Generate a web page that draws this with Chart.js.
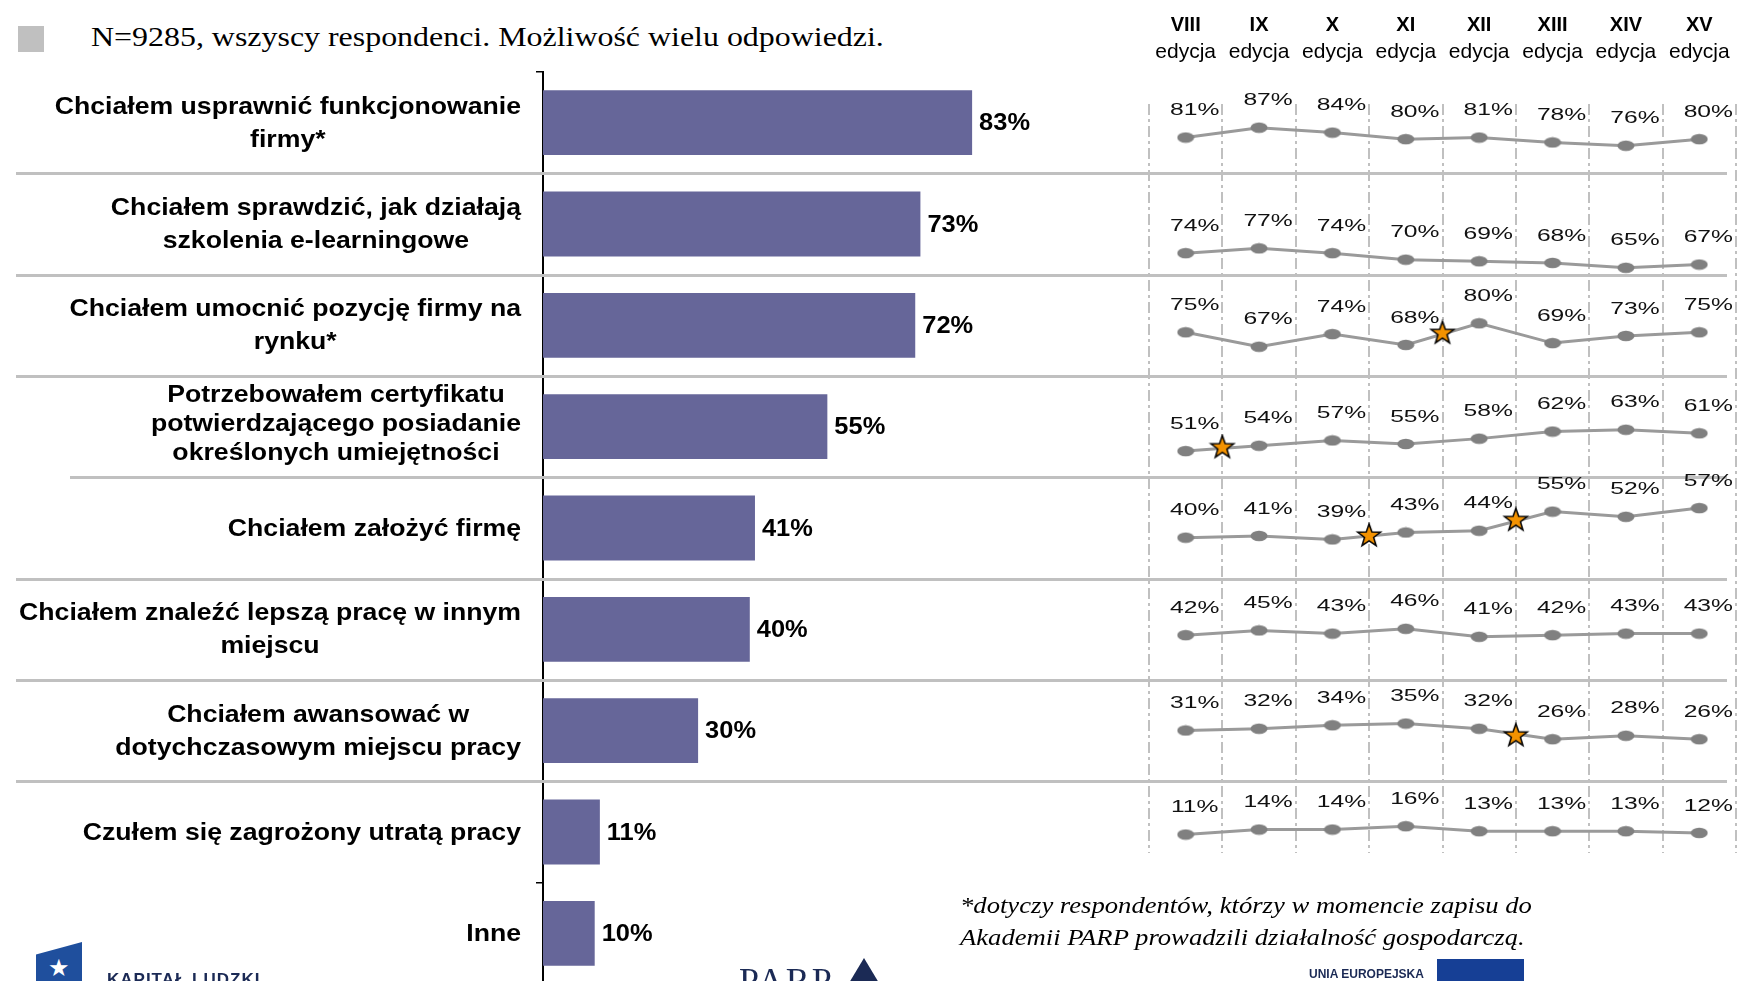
<!DOCTYPE html>
<html lang="pl">
<head>
<meta charset="utf-8">
<title>Powody udziału w szkoleniach Akademii PARP</title>
<script src="https://cdn.jsdelivr.net/npm/chart.js@4.4.1/dist/chart.umd.min.js"></script>
<style>
	html, body { margin: 0; padding: 0; background: #fff; overflow: hidden; }
	body { width: 1760px; height: 981px; position: relative; font-family: "Liberation Sans", Arial, sans-serif; }
	#barChart { position: absolute; left: 0; top: 0; }
	#trendChart { position: absolute; left: 1100px; top: 0; }
	.marker { position: absolute; left: 18px; top: 26px; width: 26px; height: 26px; background: #c0c0c0; }
	.title { position: absolute; left: 91px; top: 23px; font: 28px/28px "Liberation Serif", "Times New Roman", serif; white-space: nowrap; transform: scaleX(1.14); transform-origin: left top; }
	.footnote { position: absolute; left: 960px; top: 889px; font: italic 24px/32px "Liberation Serif", "Times New Roman", serif; white-space: nowrap; transform: scaleX(1.11); transform-origin: left top; }
	.kl-mark { position: absolute; left: 36px; top: 942px; width: 46px; height: 45px; background: #1f4f9d; clip-path: polygon(0 28%, 100% 0, 100% 100%, 0 100%); color: #fff; font-size: 24px; line-height: 52px; text-align: center; }
	.kl-text { position: absolute; left: 107px; top: 970px; font: bold 17px "Liberation Sans", Arial, sans-serif; color: #1b2a55; letter-spacing: 1px; }
	.parp { position: absolute; left: 739px; top: 960px; font: 36px "Liberation Serif", serif; color: #1b2a55; letter-spacing: 2px; }
	.parp-mark { position: absolute; left: 846px; top: 958px; width: 0; height: 0; border-left: 18px solid transparent; border-right: 18px solid transparent; border-bottom: 30px solid #1b2a55; }
	.ue { position: absolute; left: 1309px; top: 967px; font: bold 12px "Liberation Sans", Arial, sans-serif; color: #1b2a55; }
	.ue-flag { position: absolute; left: 1437px; top: 959px; width: 87px; height: 30px; background: #163f95; }
</style>
</head>
<body>
<div class="marker"></div>
<div class="title">N=9285, wszyscy respondenci. Możliwość wielu odpowiedzi.</div>
<canvas id="barChart" width="1760" height="990"></canvas>
<canvas id="trendChart" width="660" height="900"></canvas>
<div class="footnote">*dotyczy respondentów, którzy w momencie zapisu do<br>Akademii PARP prowadzili działalność gospodarczą.</div>
<div class="kl-mark">★</div>
<div class="kl-text">KAPITAŁ LUDZKI</div>
<div class="parp">PARP</div>
<div class="parp-mark"></div>
<div class="ue">UNIA EUROPEJSKA</div>
<div class="ue-flag"></div>
<script>
const categories = [
	["Chciałem usprawnić funkcjonowanie", "firmy*"],
	["Chciałem sprawdzić, jak działają", "szkolenia e-learningowe"],
	["Chciałem umocnić pozycję firmy na", "rynku*"],
	["Potrzebowałem certyfikatu", "potwierdzającego posiadanie", "określonych umiejętności"],
	["Chciałem założyć firmę"],
	["Chciałem znaleźć lepszą pracę w innym", "miejscu"],
	["Chciałem awansować w", "dotychczasowym miejscu pracy"],
	["Czułem się zagrożony utratą pracy"],
	["Inne"],
];
const shares = [83, 73, 72, 55, 41, 40, 30, 11, 10];

const editions = ["VIII", "IX", "X", "XI", "XII", "XIII", "XIV", "XV"];
const editionWord = "edycja";

// one trend row per answer, editions VIII..XV
const trendUsprawnic = [81, 87, 84, 80, 81, 78, 76, 80];
const trendSprawdzic = [74, 77, 74, 70, 69, 68, 65, 67];
const trendUmocnic = [75, 67, 74, 68, 80, 69, 73, 75];
const trendCertyfikat = [51, 54, 57, 55, 58, 62, 63, 61];
const trendZalozyc = [40, 41, 39, 43, 44, 55, 52, 57];
const trendZnalezc = [42, 45, 43, 46, 41, 42, 43, 43];
const trendAwansowac = [31, 32, 34, 35, 32, 26, 28, 26];
const trendZagrozony = [11, 14, 14, 16, 13, 13, 13, 12];
const trendRows = [trendUsprawnic, trendSprawdzic, trendUmocnic, trendCertyfikat, trendZalozyc, trendZnalezc, trendAwansowac, trendZagrozony];

// value range of each row's own axis
const rowAxisMin = [44.4, 50.5, 45.8, 35.6, 20.2, 22.9, 14.4, -0.1];
const rowAxisMax = [101.4, 108.3, 97.8, 88.2, 74.0, 81.4, 68.2, 56.2];

// orange stars between editions
const starRow = [2, 3, 4, 4, 6];
const starPos = [3.5, 0.5, 2.5, 4.5, 4.5];
const starValue = [74.5, 53, 41, 50, 28];

const SANS = '"Liberation Sans", Arial, sans-serif';
const separatorStart = [16, 16, 16, 70, 16, 16, 16];

function drawStretched(ctx, text, x, y, sx) {
	ctx.save();
	ctx.translate(x, y);
	ctx.scale(sx, 1);
	ctx.fillText(text, 0, 0);
	ctx.restore();
}

const barLabelsPlugin = {
	id: "barLabels",
	beforeDatasetsDraw(chart) {
		const { ctx } = chart;
		const yScale = chart.scales.y;
		ctx.save();
		ctx.strokeStyle = "#c0c0c0";
		ctx.lineWidth = 3;
		separatorStart.forEach((x0, i) => {
			const y = Math.round(yScale.getPixelForValue(i + 0.5)) + 0.5;
			ctx.beginPath();
			ctx.moveTo(x0, y);
			ctx.lineTo(1727, y);
			ctx.stroke();
		});
		ctx.restore();
	},
	afterDraw(chart) {
		const { ctx } = chart;
		const yScale = chart.scales.y;
		const xScale = chart.scales.x;
		ctx.save();
		ctx.fillStyle = "#000";
		ctx.textBaseline = "middle";

		// category labels: block right-aligned, lines centred inside it
		ctx.font = "bold 24px " + SANS;
		ctx.textAlign = "center";
		chart.data.labels.forEach((lines, i) => {
			const blockW = Math.max(...lines.map((l) => ctx.measureText(l).width * 1.11));
			const cx = 521 - blockW / 2;
			const lh = lines.length > 2 ? 29 : 33;
			const cy = yScale.getPixelForValue(i) + (lines.length > 2 ? -2 : 1);
			lines.forEach((line, k) => {
				drawStretched(ctx, line, cx, cy + (k - (lines.length - 1) / 2) * lh, 1.11);
			});
		});

		// value labels at bar ends
		ctx.font = "bold 24px " + SANS;
		ctx.textAlign = "left";
		chart.data.datasets[0].data.forEach((v, i) => {
			drawStretched(ctx, v + "%", xScale.getPixelForValue(v) + 7, yScale.getPixelForValue(i) + 1, 1.06);
		});
		ctx.restore();
	},
};

const trendValuesPlugin = {
	id: "trendValues",
	afterDatasetsDraw(chart) {
		const { ctx } = chart;
		ctx.save();
		ctx.fillStyle = "#111";
		ctx.font = "17px " + SANS;
		ctx.textAlign = "center";
		ctx.textBaseline = "middle";
		chart.data.datasets.forEach((ds, i) => {
			if (!ds.showValues) return;
			chart.getDatasetMeta(i).data.forEach((pt, k) => {
				drawStretched(ctx, ds.data[k].y + "%", pt.x + 9, pt.y - 27, 1.45);
			});
		});
		ctx.restore();
	},
};

function makeDot() {
	const c = document.createElement("canvas");
	c.width = 18;
	c.height = 12;
	const g = c.getContext("2d");
	g.fillStyle = "#808080";
	g.beginPath();
	g.ellipse(9, 6, 8.5, 5.2, 0, 0, Math.PI * 2);
	g.fill();
	return c;
}

function makeStar() {
	const c = document.createElement("canvas");
	c.width = 28;
	c.height = 28;
	const g = c.getContext("2d");
	const R = 12;
	const r = R * 0.4;
	g.beginPath();
	for (let k = 0; k < 10; k++) {
		const rad = k % 2 === 0 ? R : r;
		const a = -Math.PI / 2 + (k * Math.PI) / 5;
		const px = 14 + rad * Math.cos(a);
		const py = 14 + rad * Math.sin(a);
		if (k === 0) g.moveTo(px, py);
		else g.lineTo(px, py);
	}
	g.closePath();
	g.fillStyle = "#f39200";
	g.fill();
	g.lineWidth = 1.5;
	g.strokeStyle = "#000";
	g.stroke();
	return c;
}

function initBarChart() {
	const ctx = document.getElementById("barChart").getContext("2d");
	new Chart(ctx, {
		type: "bar",
		data: {
			labels: categories,
			datasets: [
				{
					data: shares,
					backgroundColor: "#666699",
					barPercentage: 0.64,
					categoryPercentage: 1,
				},
			],
		},
		options: {
			indexAxis: "y",
			responsive: false,
			animation: false,
			layout: { padding: { top: 72, right: 700, bottom: 6, left: 0 } },
			plugins: {
				legend: { display: false },
				tooltip: { enabled: false },
			},
			scales: {
				x: { min: 0, max: 100, display: false },
				y: {
					ticks: { display: false },
					grid: {
						drawOnChartArea: false,
						drawTicks: true,
						tickLength: 7,
						color: "#000",
						lineWidth: 1.5,
						offset: true,
					},
					border: { color: "#000", width: 2 },
					afterFit: (scale) => {
						scale.width = 543;
					},
				},
			},
		},
		plugins: [barLabelsPlugin],
	});
}

function initTrendChart() {
	const ctx = document.getElementById("trendChart").getContext("2d");
	const dot = makeDot();
	const star = makeStar();

	const lineSets = trendRows.map((values, i) => ({
		data: values.map((v, k) => ({ x: k, y: v })),
		xAxisID: "x",
		yAxisID: "r" + i,
		borderColor: "#9a9a9a",
		borderWidth: 3,
		pointStyle: dot,
		pointRadius: 6,
		tension: 0,
		showValues: true,
		order: 2,
	}));
	const starSets = starRow.map((row, j) => ({
		data: [{ x: starPos[j], y: starValue[j] }],
		xAxisID: "x",
		yAxisID: "r" + row,
		showLine: false,
		pointStyle: star,
		pointRadius: 12,
		order: 1,
	}));

	const headerAxis = (labels, font, height, padding) => ({
		type: "category",
		position: "top",
		labels: labels,
		offset: true,
		grid: { display: false, drawTicks: false },
		border: { display: false },
		ticks: { display: labels.length > 0, color: "#000", font: font, padding: padding, maxRotation: 0, autoSkip: false },
		afterFit: (scale) => {
			scale.height = height;
		},
	});

	const scales = {
		x: {
			type: "linear",
			position: "bottom",
			min: -0.5,
			max: editions.length - 0.5,
			afterBuildTicks: (axis) => {
				const edges = editions.map((_, i) => i - 0.5).concat(editions.length - 0.5);
				axis.ticks = edges.map((v) => ({ value: v }));
			},
			ticks: { display: false },
			grid: { color: "#c0c0c0", lineWidth: 2, drawTicks: false },
			border: { display: false, dash: [11, 4, 3, 4] },
		},
		// empty gap between the header and the plot
		gap: headerAxis([], { family: SANS, size: 20 }, 39, 0),
		xEd: headerAxis(editions.map(() => editionWord), { family: SANS, size: 21 }, 27, 0),
		xRoman: headerAxis(editions, { family: SANS, size: 20, weight: "bold" }, 27, 1),
	};
	rowAxisMin.forEach((min, i) => {
		scales["r" + i] = {
			type: "linear",
			position: "right",
			stack: "rows",
			stackWeight: 1,
			min: min,
			max: rowAxisMax[i],
			ticks: { display: false },
			grid: { display: false, drawTicks: false },
			border: { display: false },
		};
	});

	new Chart(ctx, {
		type: "line",
		data: { datasets: starSets.concat(lineSets) },
		options: {
			responsive: false,
			animation: false,
			layout: { padding: { top: 11, left: 49, right: 24, bottom: 47 } },
			plugins: {
				legend: { display: false },
				tooltip: { enabled: false },
			},
			scales: scales,
		},
		plugins: [trendValuesPlugin],
	});
}

initBarChart();
initTrendChart();
</script>
</body>
</html>
